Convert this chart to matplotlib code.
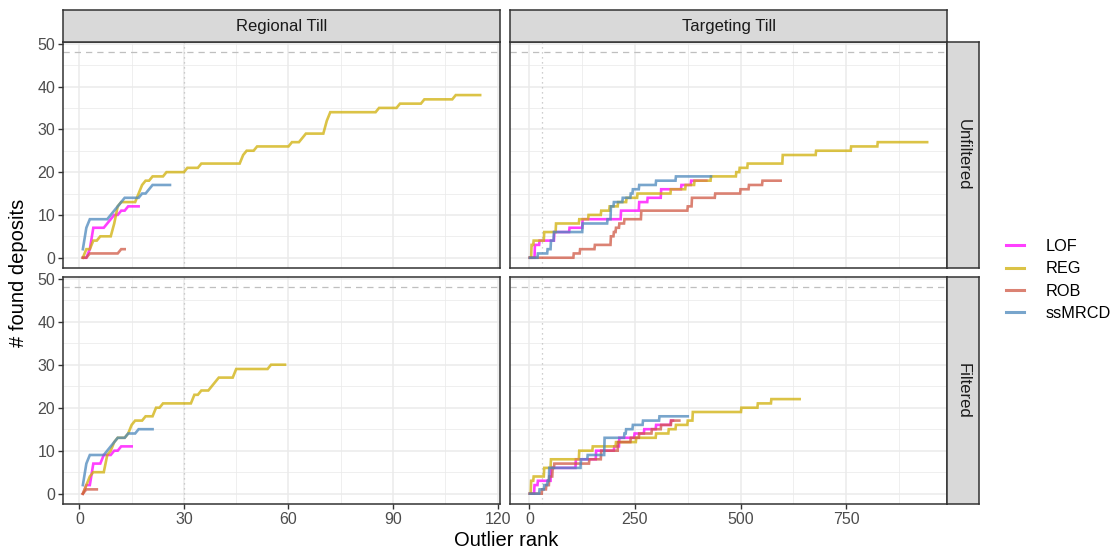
import numpy as np
import matplotlib
matplotlib.use("Agg")
import matplotlib.pyplot as plt
from matplotlib.lines import Line2D
from matplotlib.patches import Rectangle

plt.rcParams["font.family"] = ["Liberation Sans", "DejaVu Sans"]

METHODS = ["LOF", "REG", "ROB", "ssMRCD"]
COLORS = {"LOF": "#FF00FF", "REG": "#D0AF08", "ROB": "#D05844", "ssMRCD": "#4B87BC"}
COLUMNS = ["Regional Till", "Targeting Till"]
ROWS = ["Unfiltered", "Filtered"]
N_DEPOSITS = 48
CUTOFF_RANK = 30

# step breakpoints: rank at which the cumulative count changes, count from that rank on, last rank
reg_unf_lof_ranks = [1, 3, 4, 8, 9, 10, 12, 14]
reg_unf_lof_counts = [0, 2, 7, 8, 9, 10, 11, 12]
reg_unf_lof_end = 17
reg_unf_reg_ranks = [1, 2, 4, 6, 10, 11, 12, 17, 18, 19, 21, 25, 31, 35, 47, 48, 51, 61, 64, 65, 71, 72, 86, 92, 99, 108]
reg_unf_reg_counts = [0, 2, 4, 5, 8, 12, 13, 15, 17, 18, 19, 20, 21, 22, 24, 25, 26, 27, 28, 29, 32, 34, 35, 36, 37, 38]
reg_unf_reg_end = 115
reg_unf_rob_ranks = [1, 3, 12]
reg_unf_rob_counts = [0, 1, 2]
reg_unf_rob_end = 13
reg_unf_ss_ranks = [1, 2, 3, 9, 10, 11, 12, 13, 18, 20, 21]
reg_unf_ss_counts = [2, 7, 9, 10, 11, 12, 13, 14, 15, 16, 17]
reg_unf_ss_end = 26

reg_fil_lof_ranks = [1, 2, 4, 7, 10, 12]
reg_fil_lof_counts = [0, 2, 7, 9, 10, 11]
reg_fil_lof_end = 15
reg_fil_reg_ranks = [1, 2, 3, 4, 8, 9, 10, 11, 14, 15, 16, 19, 22, 24, 33, 35, 38, 39, 40, 45, 55]
reg_fil_reg_counts = [0, 2, 4, 5, 9, 10, 12, 13, 14, 16, 17, 18, 20, 21, 23, 24, 25, 26, 27, 29, 30]
reg_fil_reg_end = 59
reg_fil_rob_ranks = [1, 2]
reg_fil_rob_counts = [0, 1]
reg_fil_rob_end = 5
reg_fil_ss_ranks = [1, 2, 3, 8, 9, 10, 11, 14, 17]
reg_fil_ss_counts = [2, 7, 9, 10, 11, 12, 13, 14, 15]
reg_fil_ss_end = 21

tgt_unf_lof_ranks = [1, 13, 24, 59, 95, 126, 217, 260, 280, 312, 360, 383]
tgt_unf_lof_counts = [0, 3, 4, 6, 7, 9, 11, 13, 14, 16, 17, 18]
tgt_unf_lof_end = 419
tgt_unf_reg_ranks = [1, 5, 10, 35, 63, 118, 140, 170, 190, 210, 230, 256, 335, 370, 391, 430, 490, 498, 517, 600, 679, 762, 825]
tgt_unf_reg_counts = [0, 3, 4, 6, 8, 9, 10, 11, 12, 13, 14, 15, 16, 17, 18, 19, 20, 21, 22, 24, 25, 26, 27]
tgt_unf_reg_end = 942
tgt_unf_rob_ranks = [1, 105, 120, 155, 193, 200, 205, 213, 225, 265, 375, 385, 440, 500, 520, 552]
tgt_unf_rob_counts = [0, 1, 2, 3, 5, 6, 7, 8, 9, 11, 12, 14, 15, 16, 17, 18]
tgt_unf_rob_end = 595
tgt_unf_ss_ranks = [1, 20, 43, 51, 58, 126, 185, 193, 200, 221, 240, 245, 260, 300, 347]
tgt_unf_ss_counts = [0, 1, 2, 4, 6, 8, 9, 12, 13, 14, 15, 16, 17, 18, 19]
tgt_unf_ss_end = 430

tgt_fil_lof_ranks = [1, 12, 20, 51, 110, 158, 201, 213, 249, 272, 300, 335]
tgt_fil_lof_counts = [0, 2, 3, 6, 8, 10, 11, 13, 14, 15, 16, 17]
tgt_fil_lof_end = 340
tgt_fil_reg_ranks = [1, 4, 10, 35, 51, 118, 150, 205, 253, 300, 330, 347, 375, 387, 502, 541, 573]
tgt_fil_reg_counts = [0, 3, 4, 6, 8, 10, 11, 12, 13, 14, 15, 16, 17, 19, 20, 21, 22]
tgt_fil_reg_end = 640
tgt_fil_rob_ranks = [1, 30, 40, 47, 55, 59, 142, 170, 210, 240, 260, 290, 312, 336]
tgt_fil_rob_counts = [0, 1, 2, 4, 6, 7, 8, 10, 12, 13, 14, 15, 16, 17]
tgt_fil_rob_end = 355
tgt_fil_ss_ranks = [1, 24, 35, 43, 47, 122, 138, 178, 225, 229, 245, 269, 308]
tgt_fil_ss_counts = [0, 1, 2, 3, 6, 8, 9, 13, 14, 15, 16, 17, 18]
tgt_fil_ss_end = 375

SERIES = {
    ("Regional Till", "Unfiltered"): {
        "LOF": (reg_unf_lof_ranks, reg_unf_lof_counts, reg_unf_lof_end),
        "REG": (reg_unf_reg_ranks, reg_unf_reg_counts, reg_unf_reg_end),
        "ROB": (reg_unf_rob_ranks, reg_unf_rob_counts, reg_unf_rob_end),
        "ssMRCD": (reg_unf_ss_ranks, reg_unf_ss_counts, reg_unf_ss_end),
    },
    ("Regional Till", "Filtered"): {
        "LOF": (reg_fil_lof_ranks, reg_fil_lof_counts, reg_fil_lof_end),
        "REG": (reg_fil_reg_ranks, reg_fil_reg_counts, reg_fil_reg_end),
        "ROB": (reg_fil_rob_ranks, reg_fil_rob_counts, reg_fil_rob_end),
        "ssMRCD": (reg_fil_ss_ranks, reg_fil_ss_counts, reg_fil_ss_end),
    },
    ("Targeting Till", "Unfiltered"): {
        "LOF": (tgt_unf_lof_ranks, tgt_unf_lof_counts, tgt_unf_lof_end),
        "REG": (tgt_unf_reg_ranks, tgt_unf_reg_counts, tgt_unf_reg_end),
        "ROB": (tgt_unf_rob_ranks, tgt_unf_rob_counts, tgt_unf_rob_end),
        "ssMRCD": (tgt_unf_ss_ranks, tgt_unf_ss_counts, tgt_unf_ss_end),
    },
    ("Targeting Till", "Filtered"): {
        "LOF": (tgt_fil_lof_ranks, tgt_fil_lof_counts, tgt_fil_lof_end),
        "REG": (tgt_fil_reg_ranks, tgt_fil_reg_counts, tgt_fil_reg_end),
        "ROB": (tgt_fil_rob_ranks, tgt_fil_rob_counts, tgt_fil_rob_end),
        "ssMRCD": (tgt_fil_ss_ranks, tgt_fil_ss_counts, tgt_fil_ss_end),
    },
}

X_MAJOR = {"Regional Till": [0, 30, 60, 90, 120], "Targeting Till": [0, 250, 500, 750]}
X_MINOR = {"Regional Till": [15, 45, 75, 105], "Targeting Till": [125, 375, 625, 875]}
Y_MAJOR = [0, 10, 20, 30, 40, 50]
Y_MINOR = [5, 15, 25, 35, 45]

W, H = 1110, 551
COL_X = {"Regional Till": (63, 500), "Targeting Till": (510, 947)}
ROW_Y = {"Unfiltered": (42, 268), "Filtered": (277, 504)}
BORDER = "#333333"
GRID = "#EBEBEB"
STRIP = "#D9D9D9"


def expand(lo, hi, mult=0.05):
    pad = (hi - lo) * mult
    return lo - pad, hi + pad


def step_series(ranks, counts, end):
    x = np.arange(1, end + 1)
    idx = np.searchsorted(ranks, x, side="right") - 1
    return x, np.asarray(counts)[idx]


def px_axes(fig, x0, x1, y0, y1):
    return fig.add_axes([x0 / W, 1 - y1 / H, (x1 - x0) / W, (y1 - y0) / H])


fig = plt.figure(figsize=(W / 100, H / 100), dpi=100)

for col in COLUMNS:
    xmax = max(SERIES[(col, r)][m][2] for r in ROWS for m in METHODS)
    xlim = expand(1, xmax)
    ylim = expand(0, N_DEPOSITS)
    cx0, cx1 = COL_X[col]
    for row in ROWS:
        ry0, ry1 = ROW_Y[row]
        ax = px_axes(fig, cx0, cx1, ry0, ry1)
        ax.set_xlim(*xlim)
        ax.set_ylim(*ylim)
        for v in X_MINOR[col]:
            ax.axvline(v, color=GRID, lw=0.55, zorder=0)
        for v in Y_MINOR:
            ax.axhline(v, color=GRID, lw=0.55, zorder=0)
        for v in X_MAJOR[col]:
            ax.axvline(v, color=GRID, lw=1.1, zorder=0)
        for v in Y_MAJOR:
            ax.axhline(v, color=GRID, lw=1.1, zorder=0)
        ax.axhline(N_DEPOSITS, color="#BFBFBF", lw=0.9, ls=(0, (5, 4)), zorder=1)
        ax.axvline(CUTOFF_RANK, color="#BFBFBF", lw=0.9, ls=(0, (1, 3)), zorder=1)
        for m in METHODS:
            ranks, counts, end = SERIES[(col, row)][m]
            x, y = step_series(ranks, counts, end)
            ax.plot(x, y, color=COLORS[m], lw=1.9, alpha=0.75, zorder=2,
                    solid_joinstyle="miter")
        for s in ax.spines.values():
            s.set_color(BORDER)
            s.set_linewidth(1.1)
        ax.set_xticks(X_MAJOR[col])
        ax.set_yticks(Y_MAJOR)
        ax.tick_params(colors=BORDER, length=3.5, width=1.0, labelsize=11.5,
                       labelcolor="#4D4D4D", pad=2)
        if row != ROWS[-1]:
            ax.tick_params(axis="x", length=0, labelbottom=False)
        if col != COLUMNS[0]:
            ax.tick_params(axis="y", length=0, labelleft=False)

    # column strip
    sax = px_axes(fig, cx0, cx1, 10, 42)
    sax.add_patch(Rectangle((0, 0), 1, 1, transform=sax.transAxes, facecolor=STRIP,
                            edgecolor="none"))
    sax.text(0.5, 0.5, col, ha="center", va="center", fontsize=12, color="#1A1A1A",
             transform=sax.transAxes)
    sax.set_xticks([])
    sax.set_yticks([])
    for s in sax.spines.values():
        s.set_color(BORDER)
        s.set_linewidth(1.1)

for row in ROWS:
    ry0, ry1 = ROW_Y[row]
    sax = px_axes(fig, 947, 979, ry0, ry1)
    sax.add_patch(Rectangle((0, 0), 1, 1, transform=sax.transAxes, facecolor=STRIP,
                            edgecolor="none"))
    sax.text(0.5, 0.5, row, ha="center", va="center", fontsize=12, color="#1A1A1A",
             rotation=-90, transform=sax.transAxes)
    sax.set_xticks([])
    sax.set_yticks([])
    for s in sax.spines.values():
        s.set_color(BORDER)
        s.set_linewidth(1.1)

fig.text(506 / W, 1 - 541 / H, "Outlier rank", ha="center", va="center", fontsize=14.5)
fig.text(19 / W, 1 - 273 / H, "# found deposits", ha="center", va="center", fontsize=14.5,
         rotation=90)

handles = [Line2D([0], [0], color=COLORS[m], lw=2.2, alpha=0.75) for m in METHODS]
fig.legend(handles, METHODS, loc="center left", bbox_to_anchor=(999 / W, 1 - 280 / H),
           frameon=False, fontsize=11.7, handlelength=1.15, handletextpad=1.3,
           labelspacing=0.45, borderaxespad=0)

fig.savefig("out.png", dpi=100)
